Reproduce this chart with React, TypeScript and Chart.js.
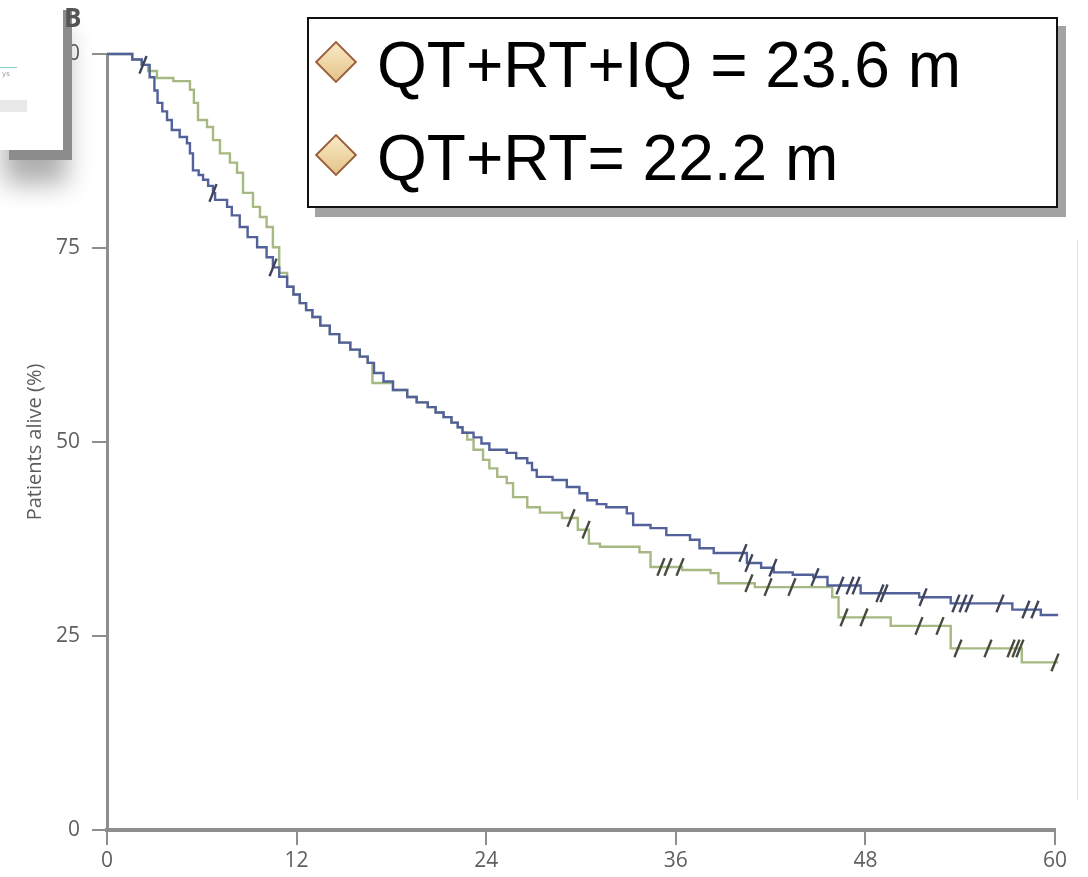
import React, { useEffect, useRef } from 'react';
import { Chart, registerables } from 'chart.js';

Chart.register(...registerables);

// ---- data ----
const seriesNames = ['QT+RT+IQ = 23.6 m', 'QT+RT= 22.2 m'];

const blueMonths = [0, 1.6, 2.2, 2.7, 3.0, 3.2, 3.5, 3.8, 4.1, 4.6, 5.06, 5.25, 5.44, 5.8, 6.08, 6.4, 6.71, 6.84, 7.6, 7.9, 8.4, 8.9, 9.5, 10.1, 10.5, 10.9, 11.4, 11.8, 12.2, 12.6, 13.0, 13.5, 14.1, 14.7, 15.4, 16.0, 16.5, 16.9, 17.5, 18.1, 19.0, 19.6, 20.3, 20.8, 21.3, 21.8, 22.2, 22.5, 23.2, 23.7, 24.2, 25.3, 25.9, 26.6, 26.9, 27.2, 28.2, 29.1, 29.9, 30.4, 31.0, 31.6, 32.9, 33.3, 34.4, 35.4, 36.9, 37.5, 38.4, 40.5, 41.4, 42.2, 43.4, 44.7, 45.6, 47.7, 51.4, 53.4, 57.3, 59.1, 60.2];
const blueSurvival = [100, 99.3, 98.6, 97.0, 95.3, 93.7, 92.6, 91.5, 90.2, 89.3, 88.5, 87.2, 85.0, 84.4, 83.8, 83.0, 82.1, 81.2, 80.3, 79.2, 77.7, 76.4, 75.1, 73.8, 72.5, 71.3, 70.0, 69.0, 67.9, 67.0, 66.1, 65.0, 63.9, 62.8, 61.9, 61.0, 60.2, 58.9, 57.8, 56.7, 55.8, 55.1, 54.5, 53.8, 53.2, 52.5, 51.9, 51.2, 50.6, 49.8, 49.0, 48.6, 47.9, 47.3, 46.4, 45.5, 45.1, 44.2, 43.4, 42.5, 42.0, 41.6, 40.8, 39.3, 38.9, 38.0, 37.4, 36.3, 35.7, 34.4, 33.8, 33.2, 32.9, 32.6, 31.5, 30.5, 30.0, 29.2, 28.4, 27.7, 27.7];

const greenMonths = [0, 1.6, 2.2, 2.6, 3.16, 4.2, 5.25, 5.5, 5.76, 6.33, 6.71, 7.15, 7.78, 8.23, 8.61, 9.24, 9.68, 10.1, 10.5, 10.9, 11.4, 11.8, 12.2, 12.6, 13.0, 13.5, 14.1, 14.7, 15.4, 16.0, 16.5, 16.8, 18.1, 19.0, 19.6, 20.3, 20.8, 21.3, 21.8, 22.2, 22.5, 22.8, 23.2, 23.8, 24.2, 24.7, 25.3, 25.7, 26.6, 27.4, 28.8, 29.8, 30.5, 31.2, 33.7, 34.4, 36.4, 38.2, 38.7, 41.0, 45.9, 46.3, 49.6, 53.4, 57.9, 60.2];
const greenSurvival = [100, 99.3, 98.6, 97.8, 96.9, 96.5, 95.4, 93.7, 91.5, 90.6, 88.9, 87.2, 86.0, 84.7, 82.1, 80.3, 79.0, 77.7, 75.1, 71.8, 70.0, 69.0, 67.9, 67.0, 66.1, 65.0, 63.9, 62.8, 61.9, 61.0, 60.2, 57.6, 56.7, 55.8, 55.1, 54.5, 53.8, 53.2, 52.5, 51.9, 51.2, 50.3, 49.0, 47.7, 46.6, 45.5, 44.7, 42.9, 41.6, 40.9, 40.2, 38.7, 36.9, 36.5, 35.8, 33.9, 33.5, 33.1, 31.8, 31.3, 30.0, 27.4, 26.3, 23.4, 21.6, 21.6];

const blueCensorMonths = [2.28, 6.71, 10.51, 40.25, 40.63, 42.15, 44.81, 46.39, 47.03, 47.41, 48.92, 49.18, 51.65, 53.73, 54.18, 54.56, 56.52, 58.16, 58.73];
const greenCensorMonths = [29.37, 30.32, 35.06, 35.51, 36.27, 40.63, 41.84, 43.35, 46.65, 47.91, 51.39, 52.72, 53.86, 55.76, 57.22, 57.53, 57.78, 60.0];

const xTickValues = [0, 12, 24, 36, 48, 60];
const xTickLabels = ['0', '12', '24', '36', '48', '60'];
const yTickValues = [0, 25, 50, 75, 100];
const yTickLabels = ['0', '25', '50', '75', '100'];
const yAxisTitle = 'Patients alive (%)';
const panelLetter = 'B';

const BLUE = '#52619a';
const GREEN = '#a7b983';

function survivalAt(months: number[], surv: number[], t: number): number {
  let v = surv[0];
  for (let i = 0; i < months.length; i++) {
    if (months[i] <= t) v = surv[i];
  }
  return v;
}

function toPoints(months: number[], surv: number[]) {
  return months.map((m, i) => ({ x: m, y: surv[i] }));
}

export default function App() {
  const canvasRef = useRef<HTMLCanvasElement | null>(null);

  useEffect(() => {
    document.body.style.margin = '0';
    const canvas = canvasRef.current;
    if (!canvas) return;
    const tickFont = { family: "'Open Sans', sans-serif", size: 21 };
    const chart = new Chart(canvas, {
      type: 'scatter',
      data: {
        datasets: [
          {
            label: seriesNames[0] + ' censored',
            data: blueCensorMonths.map((t) => ({ x: t, y: survivalAt(blueMonths, blueSurvival, t) })),
            showLine: false,
            pointStyle: 'line',
            rotation: -68,
            radius: 9.5,
            borderWidth: 2.4,
            borderColor: '#3d4459',
            backgroundColor: '#3d4459',
            order: 0,
            clip: false,
          },
          {
            label: seriesNames[1] + ' censored',
            data: greenCensorMonths.map((t) => ({ x: t, y: survivalAt(greenMonths, greenSurvival, t) })),
            showLine: false,
            pointStyle: 'line',
            rotation: -68,
            radius: 9.5,
            borderWidth: 2.4,
            borderColor: '#474b3e',
            backgroundColor: '#474b3e',
            order: 0,
            clip: false,
          },
          {
            label: seriesNames[0],
            data: toPoints(blueMonths, blueSurvival),
            showLine: true,
            stepped: 'before',
            borderColor: BLUE,
            borderWidth: 2.4,
            pointRadius: 0,
            order: 1,
            clip: false,
          },
          {
            label: seriesNames[1],
            data: toPoints(greenMonths, greenSurvival),
            showLine: true,
            stepped: 'before',
            borderColor: GREEN,
            borderWidth: 2.4,
            pointRadius: 0,
            order: 2,
            clip: false,
          },
        ],
      },
      options: {
        animation: false,
        responsive: false,
        maintainAspectRatio: false,
        layout: { padding: { top: 54, right: 33, left: 0, bottom: 0 } },
        plugins: { legend: { display: false }, tooltip: { enabled: false } },
        scales: {
          x: {
            type: 'linear',
            min: 0,
            max: 60,
            afterFit: (s: any) => { s.height = 47; },
            afterBuildTicks: (s: any) => { s.ticks = xTickValues.map((v) => ({ value: v })); },
            ticks: {
              callback: (_v: any, i: number) => xTickLabels[i],
              font: tickFont,
              color: '#5f5f5f',
              padding: 3,
              maxRotation: 0,
            },
            grid: { drawOnChartArea: false, drawTicks: true, tickLength: 15, color: '#8e8e8e', lineWidth: 2 },
            border: { display: true, color: '#8e8e8e', width: 4 },
          },
          y: {
            type: 'linear',
            min: 0,
            max: 100,
            afterFit: (s: any) => { s.width = 107; },
            afterBuildTicks: (s: any) => { s.ticks = yTickValues.map((v) => ({ value: v })); },
            ticks: {
              callback: (_v: any, i: number) => yTickLabels[i],
              font: tickFont,
              color: '#5f5f5f',
              padding: 12,
            },
            grid: { drawOnChartArea: false, drawTicks: true, tickLength: 15, color: '#8e8e8e', lineWidth: 2 },
            border: { display: true, color: '#8e8e8e', width: 3 },
            title: {
              display: true,
              text: yAxisTitle,
              font: { family: "'Open Sans', sans-serif", size: 20 },
              color: '#5c5c5c',
              padding: { top: 23, bottom: 0 },
            },
          },
        },
      },
    });
    return () => chart.destroy();
  }, []);

  return (
    <div style={{ position: 'relative', width: 1088, height: 877, overflow: 'hidden', background: '#fff' }}>
      <canvas ref={canvasRef} width={1088} height={877} style={{ position: 'absolute', left: 0, top: 0 }} />
      {/* faint frame edge at right */}
      <div style={{ position: 'absolute', left: 1077, top: 240, width: 1, height: 560, background: '#e2e2e2' }} />
      {/* cropped inset panel at top-left */}
      <div
        style={{
          position: 'absolute', left: 0, top: 0, width: 63, height: 150, background: '#fff',
          boxShadow: '9px 10px 0 #8c8c8c, 4px 34px 26px rgba(0,0,0,0.32)',
        }}
      >
        <div style={{ position: 'absolute', left: 0, top: 67, width: 17, height: 1, background: '#8fd0c6' }} />
        <div style={{ position: 'absolute', left: 2, top: 70, fontSize: 7, color: '#9a9a9a', fontFamily: 'DejaVu Sans' }}>ys</div>
        <div style={{ position: 'absolute', left: 0, top: 100, width: 27, height: 12, background: '#e8e8e8' }} />
      </div>
      <div
        style={{
          position: 'absolute', left: 64, top: 4, fontFamily: "'Open Sans', sans-serif", fontWeight: 700,
          fontSize: 26, lineHeight: '26px', color: '#555',
        }}
      >
        {panelLetter}
      </div>
      {/* legend */}
      <div
        style={{
          position: 'absolute', left: 307, top: 17, width: 751, height: 191, boxSizing: 'border-box',
          border: '2px solid #111', background: '#fff', boxShadow: '8px 9px 0 #a3a3a3',
        }}
      />
      {seriesNames.map((name, i) => (
        <React.Fragment key={name}>
          <div
            style={{
              position: 'absolute', left: 336 - 15, top: (i === 0 ? 62 : 155) - 15, width: 30, height: 30,
              boxSizing: 'border-box', border: '2.5px solid #9c5d38', transform: 'rotate(45deg)',
              background: 'linear-gradient(135deg, #fae9c4, #e3c489)',
            }}
          />
          <div
            style={{
              position: 'absolute', left: 377, top: (i === 0 ? 87 : 180) - 54.2, fontFamily: "'Liberation Sans', Arial, sans-serif",
              fontSize: 64, lineHeight: '64px', color: '#000', whiteSpace: 'nowrap',
            }}
          >
            {name}
          </div>
        </React.Fragment>
      ))}
    </div>
  );
}
